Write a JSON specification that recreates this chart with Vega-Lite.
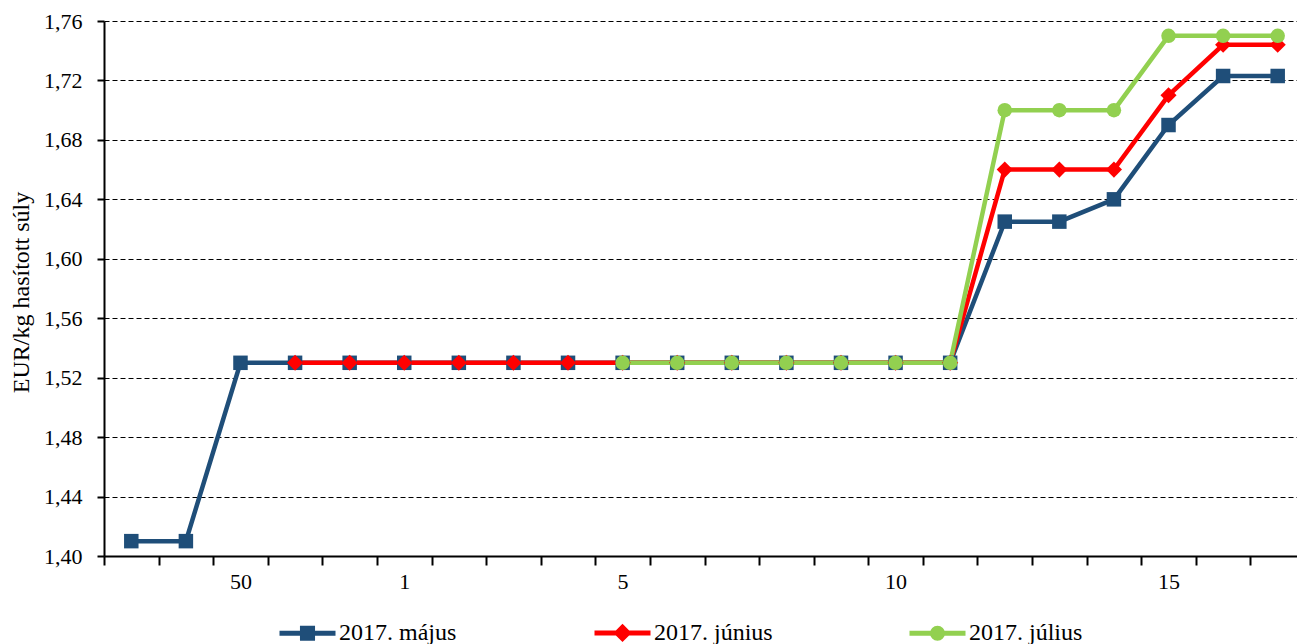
{
  "$schema": "https://vega.github.io/schema/vega-lite/v6.json",
  "width": 1193,
  "height": 535,
  "autosize": "none",
  "padding": {"left": 104, "top": 21, "right": 0, "bottom": 88},
  "background": "white",
  "config": {
    "view": {"stroke": null},
    "font": "Liberation Serif"
  },
  "data": {
    "values": [
      {"week": "48", "series": "2017. május", "value": 1.41},
      {"week": "49", "series": "2017. május", "value": 1.41},
      {"week": "50", "series": "2017. május", "value": 1.53},
      {"week": "51", "series": "2017. május", "value": 1.53},
      {"week": "52", "series": "2017. május", "value": 1.53},
      {"week": "1", "series": "2017. május", "value": 1.53},
      {"week": "2", "series": "2017. május", "value": 1.53},
      {"week": "3", "series": "2017. május", "value": 1.53},
      {"week": "4", "series": "2017. május", "value": 1.53},
      {"week": "5", "series": "2017. május", "value": 1.53},
      {"week": "6", "series": "2017. május", "value": 1.53},
      {"week": "7", "series": "2017. május", "value": 1.53},
      {"week": "8", "series": "2017. május", "value": 1.53},
      {"week": "9", "series": "2017. május", "value": 1.53},
      {"week": "10", "series": "2017. május", "value": 1.53},
      {"week": "11", "series": "2017. május", "value": 1.53},
      {"week": "12", "series": "2017. május", "value": 1.625},
      {"week": "13", "series": "2017. május", "value": 1.625},
      {"week": "14", "series": "2017. május", "value": 1.64},
      {"week": "15", "series": "2017. május", "value": 1.69},
      {"week": "16", "series": "2017. május", "value": 1.723},
      {"week": "17", "series": "2017. május", "value": 1.723},
      {"week": "51", "series": "2017. június", "value": 1.53},
      {"week": "52", "series": "2017. június", "value": 1.53},
      {"week": "1", "series": "2017. június", "value": 1.53},
      {"week": "2", "series": "2017. június", "value": 1.53},
      {"week": "3", "series": "2017. június", "value": 1.53},
      {"week": "4", "series": "2017. június", "value": 1.53},
      {"week": "5", "series": "2017. június", "value": 1.53},
      {"week": "6", "series": "2017. június", "value": 1.53},
      {"week": "7", "series": "2017. június", "value": 1.53},
      {"week": "8", "series": "2017. június", "value": 1.53},
      {"week": "9", "series": "2017. június", "value": 1.53},
      {"week": "10", "series": "2017. június", "value": 1.53},
      {"week": "11", "series": "2017. június", "value": 1.53},
      {"week": "12", "series": "2017. június", "value": 1.66},
      {"week": "13", "series": "2017. június", "value": 1.66},
      {"week": "14", "series": "2017. június", "value": 1.66},
      {"week": "15", "series": "2017. június", "value": 1.71},
      {"week": "16", "series": "2017. június", "value": 1.744},
      {"week": "17", "series": "2017. június", "value": 1.744},
      {"week": "5", "series": "2017. július", "value": 1.53},
      {"week": "6", "series": "2017. július", "value": 1.53},
      {"week": "7", "series": "2017. július", "value": 1.53},
      {"week": "8", "series": "2017. július", "value": 1.53},
      {"week": "9", "series": "2017. július", "value": 1.53},
      {"week": "10", "series": "2017. július", "value": 1.53},
      {"week": "11", "series": "2017. július", "value": 1.53},
      {"week": "12", "series": "2017. július", "value": 1.70},
      {"week": "13", "series": "2017. július", "value": 1.70},
      {"week": "14", "series": "2017. július", "value": 1.70},
      {"week": "15", "series": "2017. július", "value": 1.75},
      {"week": "16", "series": "2017. július", "value": 1.75},
      {"week": "17", "series": "2017. július", "value": 1.75}
    ]
  },
  "encoding": {
    "x": {
      "field": "week",
      "type": "ordinal",
      "sort": ["48","49","50","51","52","1","2","3","4","5","6","7","8","9","10","11","12","13","14","15","16","17"],
      "scale": {"type": "band", "paddingInner": 0, "paddingOuter": 0, "range": [0, 1201]},
      "axis": {
        "title": null,
        "tickBand": "extent",
        "labelAngle": 0,
        "labelExpr": "indexof(['50','1','5','10','15'], datum.value) >= 0 ? datum.value : ''",
        "labelFont": "Liberation Serif",
        "labelFontSize": 22,
        "labelColor": "black",
        "labelPadding": 6,
        "tickSize": 9,
        "tickWidth": 2,
        "tickColor": "black",
        "domainColor": "black",
        "domainWidth": 2,
        "grid": false
      }
    },
    "y": {
      "field": "value",
      "type": "quantitative",
      "scale": {"domain": [1.40, 1.76], "zero": false, "nice": false},
      "axis": {
        "title": "EUR/kg hasított súly",
        "titleFont": "Liberation Serif",
        "titleFontSize": 24,
        "titleFontWeight": "normal",
        "titleColor": "black",
        "titleX": -71,
        "titleY": 271,
        "titleAngle": -90,
        "titleAlign": "center",
        "titleBaseline": "bottom",
        "values": [1.40, 1.44, 1.48, 1.52, 1.56, 1.60, 1.64, 1.68, 1.72, 1.76],
        "labelExpr": "replace(format(datum.value, '.2f'), '.', ',')",
        "labelFont": "Liberation Serif",
        "labelFontSize": 22,
        "labelColor": "black",
        "labelPadding": 15,
        "tickSize": 7,
        "tickWidth": 2,
        "tickColor": "black",
        "domainColor": "black",
        "domainWidth": 2,
        "grid": true,
        "gridColor": "black",
        "gridWidth": 1,
        "gridDash": [5, 3]
      }
    },
    "color": {
      "field": "series",
      "type": "nominal",
      "scale": {
        "domain": ["2017. május", "2017. június", "2017. július"],
        "range": ["#1F4E79", "#FF0000", "#92D050"]
      }
    }
  },
  "layer": [
    {
      "mark": {"type": "line", "strokeWidth": 4.5},
      "encoding": {
        "order": {"value": null},
        "color": {
          "field": "series",
          "type": "nominal",
          "legend": {
            "title": null,
            "orient": "none",
            "legendX": 173,
            "legendY": 581,
            "direction": "horizontal",
            "columns": 3,
            "gridAlign": "all",
            "columnPadding": 126,
            "symbolSize": 3136,
            "symbolStrokeWidth": 5,
            "labelFont": "Liberation Serif",
            "labelFontSize": 24,
            "labelColor": "black",
            "labelOffset": 1,
            "labelLimit": 300,
            "encode": {
              "symbols": {
                "update": {
                  "shape": {"signal": "datum.value == '2017. május' ? 'M-1,0H1M-0.18,-0.18H0.18V0.18H-0.18Z' : datum.value == '2017. június' ? 'M-1,0H1M0,-0.2L0.2,0L0,0.2L-0.2,0Z' : 'M-1,0H1M-0.18,0A0.18,0.18,0,1,0,0.18,0A0.18,0.18,0,1,0,-0.18,0Z'"},
                  "fill": {"signal": "scale('color', datum.value)"},
                  "stroke": {"signal": "scale('color', datum.value)"},
                  "strokeWidth": {"value": 5},
                  "opacity": {"value": 1},
                  "fillOpacity": {"value": 1}
                }
              }
            }
          }
        }
      }
    },
    {
      "transform": [{"filter": "datum.series == '2017. május'"}],
      "mark": {"type": "point", "shape": "square", "filled": true, "opacity": 1, "size": 210}
    },
    {
      "transform": [{"filter": "datum.series == '2017. június'"}],
      "mark": {"type": "point", "shape": "diamond", "filled": true, "opacity": 1, "size": 260}
    },
    {
      "transform": [{"filter": "datum.series == '2017. július'"}],
      "mark": {"type": "point", "shape": "circle", "filled": true, "opacity": 1, "size": 210}
    }
  ]
}
